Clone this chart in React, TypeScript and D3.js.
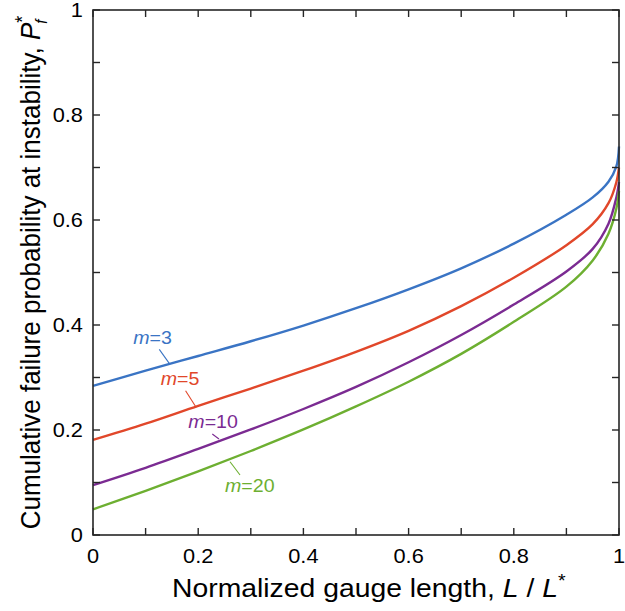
import React from "react";
import * as d3 from "d3";

const xGrid = [0, 0.1, 0.2, 0.3, 0.4, 0.5, 0.6, 0.7, 0.8, 0.9, 0.95, 0.98, 0.995, 1];
const m3 = [0.284, 0.313, 0.341, 0.369, 0.399, 0.432, 0.468, 0.508, 0.555, 0.61, 0.643, 0.673, 0.702, 0.74];
const m5 = [0.181, 0.212, 0.246, 0.279, 0.313, 0.349, 0.389, 0.436, 0.49, 0.552, 0.592, 0.632, 0.672, 0.7];
const m10 = [0.095, 0.128, 0.164, 0.201, 0.24, 0.282, 0.329, 0.381, 0.439, 0.502, 0.545, 0.593, 0.643, 0.672];
const m20 = [0.049, 0.084, 0.121, 0.16, 0.201, 0.245, 0.292, 0.345, 0.406, 0.473, 0.523, 0.574, 0.622, 0.655];

const seriesNames = ["3", "5", "10", "20"];
const seriesValues = [m3, m5, m10, m20];
const seriesColors = ["#3a74c4", "#e1472a", "#7b2b92", "#6daf31"];
// label anchor (data units) and leader line endpoints
const labelPos = [
  [0.0766, 0.3638],
  [0.1287, 0.2857],
  [0.1812, 0.2032],
  [0.251, 0.0825],
];
const leaders = [
  [0.126, 0.3537, 0.145, 0.327],
  [0.176, 0.2749, 0.196, 0.2432],
  [0.2268, 0.1924, 0.2395, 0.1829],
  [0.2605, 0.1396, 0.2795, 0.1143],
];

const minorTicks = [0, 0.1, 0.2, 0.3, 0.4, 0.5, 0.6, 0.7, 0.8, 0.9, 1];
const tickLabels = ["0", "0.2", "0.4", "0.6", "0.8", "1"];
const tickValues = [0, 0.2, 0.4, 0.6, 0.8, 1];

const W = 625, H = 611;
const L = 93, R = 619, T = 10, B = 535;
const K = 1.09;
const FONT = "'Liberation Sans', Arial, Helvetica, sans-serif";
const AX = "#262626";

export default function App() {
  const x = d3.scaleLinear().domain([0, 1]).range([L, R]);
  const y = d3.scaleLinear().domain([0, 1]).range([B, T]);
  const line = d3
    .line<number>()
    .x((_, i) => x(xGrid[i]))
    .y((d) => y(d))
    .curve(d3.curveCatmullRom.alpha(0.5));
  const tl = 7;

  return (
    <svg width={W} height={H} style={{ position: "absolute", left: 0, top: 0, background: "#fff" }} fontFamily={FONT}>
      <rect x={0} y={0} width={W} height={H} fill="#fff" />
      {seriesValues.map((vals, i) => (
        <path key={i} d={line(vals) || ""} fill="none" stroke={seriesColors[i]} strokeWidth={2.4} strokeLinejoin="round" />
      ))}
      {leaders.map((l, i) => (
        <line key={i} x1={x(l[0])} y1={y(l[1])} x2={x(l[2])} y2={y(l[3])} stroke={seriesColors[i]} strokeWidth={1.1} />
      ))}
      {labelPos.map((p, i) => (
        <text key={i} transform={`translate(${x(p[0])},${y(p[1])}) scale(${K},1)`} fontSize={18} fill={seriesColors[i]}>
          <tspan fontStyle="italic">m</tspan>={seriesNames[i]}
        </text>
      ))}
      {/* axes box */}
      <rect x={L} y={T} width={R - L} height={B - T} fill="none" stroke={AX} strokeWidth={1.6} />
      {minorTicks.map((t, i) => (
        <g key={i} stroke={AX} strokeWidth={1.4}>
          <line x1={x(t)} x2={x(t)} y1={B} y2={B - tl} />
          <line x1={x(t)} x2={x(t)} y1={T} y2={T + tl} />
          <line x1={L} x2={L + tl} y1={y(t)} y2={y(t)} />
          <line x1={R} x2={R - tl} y1={y(t)} y2={y(t)} />
        </g>
      ))}
      {tickValues.map((t, i) => (
        <text key={"x" + i} transform={`translate(${x(t)},563) scale(${K},1)`} fontSize={20} textAnchor="middle" fill="#000">
          {tickLabels[i]}
        </text>
      ))}
      {tickValues.map((t, i) => (
        <text key={"y" + i} transform={`translate(${L - 10},${y(t) + 7}) scale(${K},1)`} fontSize={20} textAnchor="end" fill="#000">
          {tickLabels[i]}
        </text>
      ))}
      <text transform={`translate(172,597) scale(${K},1)`} fontSize={26} fill="#000">
        Normalized gauge length, <tspan fontStyle="italic">L</tspan> / <tspan fontStyle="italic">L</tspan>
        <tspan fontSize={18} dy={-10}>*</tspan>
      </text>
      <g transform={`translate(40,${(T + B) / 2}) scale(${K},1) rotate(-90)`}>
        <text fontSize={26} textAnchor="middle" fill="#000">
          Cumulative failure probability at instability, <tspan fontStyle="italic">P</tspan>
          <tspan fontSize={18} dy={-10}>*</tspan>
          <tspan fontSize={15} fontStyle="italic" dx={-8} dy={16}>f</tspan>
        </text>
      </g>
    </svg>
  );
}
